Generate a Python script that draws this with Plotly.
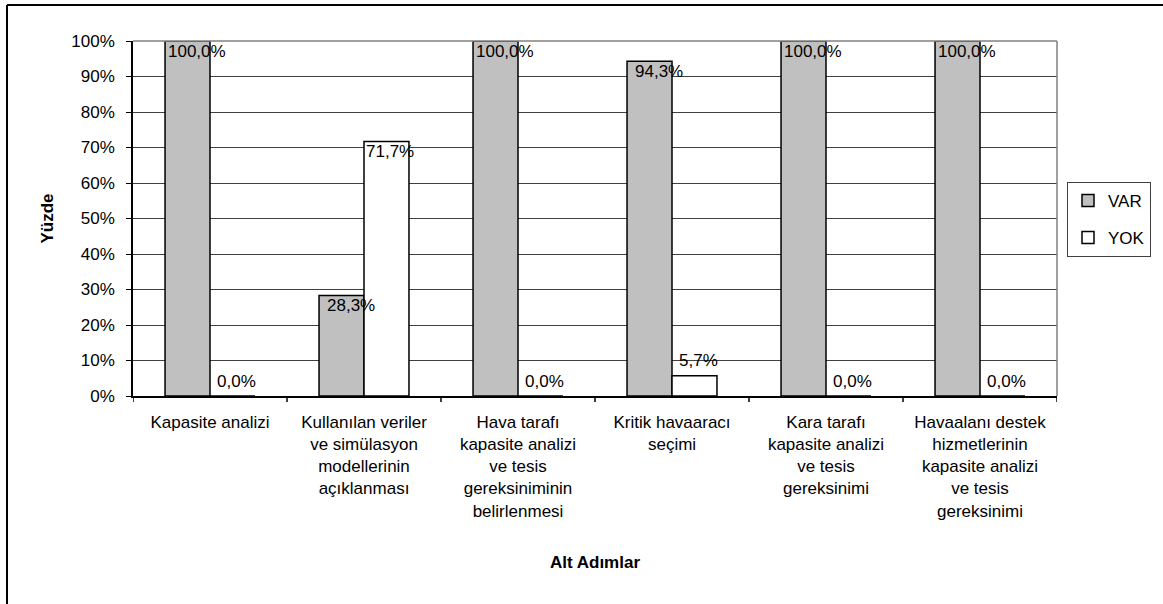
import plotly.graph_objects as go

categories = [
    "Kapasite analizi",
    "Kullanılan veriler<br>ve simülasyon<br>modellerinin<br>açıklanması",
    "Hava tarafı<br>kapasite analizi<br>ve tesis<br>gereksiniminin<br>belirlenmesi",
    "Kritik havaaracı<br>seçimi",
    "Kara tarafı<br>kapasite analizi<br>ve tesis<br>gereksinimi",
    "Havaalanı destek<br>hizmetlerinin<br>kapasite analizi<br>ve tesis<br>gereksinimi",
]
var_values = [100.0, 28.3, 100.0, 94.3, 100.0, 100.0]
yok_values = [0.0, 71.7, 0.0, 5.7, 0.0, 0.0]
series_names = ["VAR", "YOK"]
y_ticks = [0, 10, 20, 30, 40, 50, 60, 70, 80, 90, 100]

FONT = "Liberation Sans, Arial, sans-serif"
x_idx = list(range(len(categories)))

fig = go.Figure()
fig.add_trace(go.Bar(
    x=x_idx, y=var_values, name=series_names[0], legendgroup="a",
    marker=dict(color="#C0C0C0", line=dict(color="black", width=1.5)),
))
fig.add_trace(go.Bar(
    x=x_idx, y=yok_values, name=series_names[1], legendgroup="b",
    marker=dict(color="white", line=dict(color="black", width=1.5)),
))

def fmt(v):
    return f"{v:.1f}%".replace(".", ",")

annotations = []
for i, v in enumerate(var_values):
    annotations.append(dict(x=i, y=v, xref="x", yref="y", text=fmt(v), showarrow=False,
                            xshift=-13, yshift=-10, font=dict(family=FONT, size=17, color="black")))
for i, v in enumerate(yok_values):
    ys = -10 if v > 50 else 15
    annotations.append(dict(x=i, y=v, xref="x", yref="y", text=fmt(v), showarrow=False,
                            xshift=26, yshift=ys, font=dict(family=FONT, size=17, color="black")))

fig.update_layout(
    width=1163, height=604,
    margin=dict(l=133, r=106, t=41, b=208),
    paper_bgcolor="white", plot_bgcolor="white",
    barmode="group", bargap=0.416, bargroupgap=0,
    font=dict(family=FONT, size=17, color="black"),
    showlegend=True,
    legend=dict(x=(1067 - 133) / 924, y=0.603, xanchor="left", yanchor="top",
                bordercolor="#404040", borderwidth=1, bgcolor="white",
                font=dict(family=FONT, size=17), traceorder="grouped",
                tracegroupgap=12, itemwidth=30),
    annotations=annotations,
    shapes=[
        dict(type="line", xref="paper", yref="paper", x0=(7 - 133) / 924, x1=(1170 - 133) / 924,
             y0=(396 - 5) / 355, y1=(396 - 5) / 355, line=dict(color="black", width=2)),
        dict(type="line", xref="paper", yref="paper", x0=(7 - 133) / 924, x1=(7 - 133) / 924,
             y0=(396 - 5) / 355, y1=(396 - 610) / 355, line=dict(color="black", width=2)),
        dict(type="line", xref="paper", yref="paper", x0=0, x1=1, y0=1, y1=1,
             line=dict(color="#808080", width=1.5)),
        dict(type="line", xref="paper", yref="paper", x0=1, x1=1, y0=0, y1=1,
             line=dict(color="#808080", width=1.5)),
    ],
)

fig.update_xaxes(
    tickmode="array", tickvals=x_idx, ticktext=categories,
    range=[-0.5, len(categories) - 0.5],
    showline=True, linecolor="black", linewidth=1.5,
    ticks="", showgrid=False, zeroline=False,
    tickfont=dict(family=FONT, size=17), ticklabelstandoff=10,
    title=dict(text="<b>Alt Adımlar</b>", font=dict(family=FONT, size=17), standoff=37),
)
fig.update_yaxes(
    range=[0, 100], tickmode="array", tickvals=y_ticks,
    ticktext=[f"{t}%" for t in y_ticks],
    showline=True, linecolor="black", linewidth=1.5,
    ticks="outside", ticklen=5, tickcolor="black",
    showgrid=True, gridcolor="#404040", gridwidth=1, zeroline=False,
    tickfont=dict(family=FONT, size=17), ticklabelstandoff=8,
    title=dict(text="<b>Yüzde</b>", font=dict(family=FONT, size=17), standoff=13),
)

# category boundary tick marks
for b in range(len(categories) + 1):
    fig.add_shape(type="line", xref="x", yref="paper", x0=b - 0.5, x1=b - 0.5,
                  y0=0, y1=-6 / 355, line=dict(color="black", width=1.5))

fig.write_html("out.html", config={"displayModeBar": False},
               post_script="document.body.style.margin='0';document.body.style.overflow='hidden';")
